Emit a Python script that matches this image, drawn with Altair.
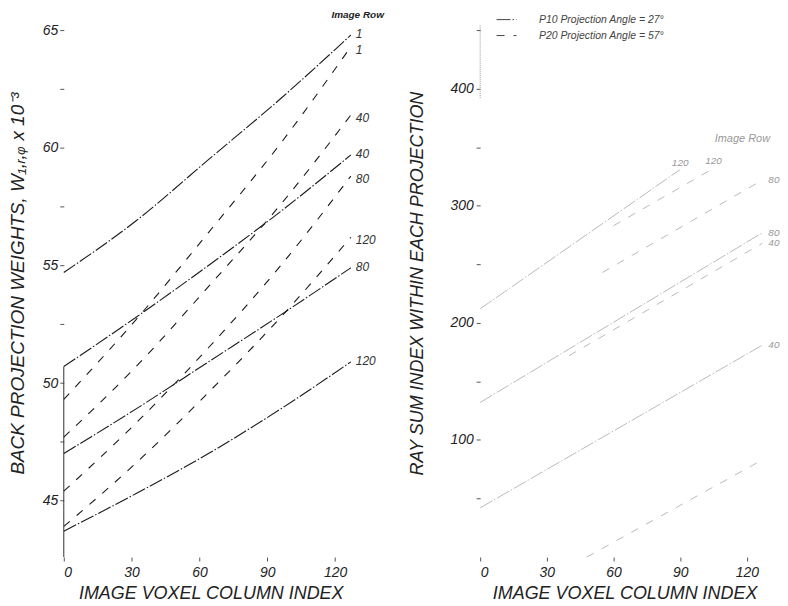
import altair as alt
import pandas as pd

FONT = "Liberation Sans"

# ---------------- left panel: back projection weights (x 10^-3) ----------------
cols = [0, 32, 64, 96, 127]
p10_row1 = [54.7, 56.9, 59.5, 62.1, 64.8]
p10_row40 = [50.7, 52.8, 55.0, 57.3, 59.7]
p10_row80 = [47.0, 48.9, 50.9, 52.9, 54.9]
p10_row120 = [43.7, 45.3, 47.0, 48.9, 50.9]
p20_row1 = [49.3, 52.7, 56.4, 60.2, 64.3]
p20_row40 = [47.7, 50.7, 54.1, 57.6, 61.4]
p20_row80 = [45.4, 48.3, 51.5, 55.0, 58.8]
p20_row120 = [43.9, 46.6, 49.6, 52.8, 56.2]
rows = ["1", "40", "80", "120"]

# ---------------- right panel: ray sum index (straight lines) ----------------
ray_p10_row40_cols = [0, 127]
ray_p10_row40 = [42, 181]
ray_p10_row80_cols = [0, 127]
ray_p10_row80 = [132, 277]
ray_p10_row120_cols = [0, 90]
ray_p10_row120 = [212, 331]
ray_p20_row1_cols = [48, 127]
ray_p20_row1 = [0, 83]
ray_p20_row40_cols = [40, 127]
ray_p20_row40 = [172, 268]
ray_p20_row80_cols = [55, 127]
ray_p20_row80 = [243, 322]
ray_p20_row120_cols = [60, 105]
ray_p20_row120 = [283, 332]

# axis helpers
left_x_ticks = [0, 15, 30, 45, 60, 75, 90, 105, 120]
left_y_ticks = [45, 47.5, 50, 52.5, 55, 57.5, 60, 62.5, 65]
right_y_ticks = [50, 100, 150, 200, 250, 300, 350, 400, 450]
left_axis_seg = [42.6, 50.7]
right_axis_seg = [392, 455]

P10 = "P10 Projection Angle = 27°"
P20 = "P20 Projection Angle = 57°"
dash_scale = alt.Scale(domain=[P10, P20], range=[[14, 2, 1.5, 2], [8, 9]])

# ---------------- build tables ----------------
recs = []
for proj, series in ((P10, [p10_row1, p10_row40, p10_row80, p10_row120]),
                     (P20, [p20_row1, p20_row40, p20_row80, p20_row120])):
    for row, vals in zip(rows, series):
        for c, v in zip(cols, vals):
            recs.append({"proj": proj, "row": row, "col": c, "w": v, "series": proj + row})
left_df = pd.DataFrame(recs)
left_end = left_df[left_df["col"] == cols[-1]]

rrecs = []
for proj, row, cc, vv in [
    (P10, "40", ray_p10_row40_cols, ray_p10_row40),
    (P10, "80", ray_p10_row80_cols, ray_p10_row80),
    (P10, "120", ray_p10_row120_cols, ray_p10_row120),
    (P20, "1", ray_p20_row1_cols, ray_p20_row1),
    (P20, "40", ray_p20_row40_cols, ray_p20_row40),
    (P20, "80", ray_p20_row80_cols, ray_p20_row80),
    (P20, "120", ray_p20_row120_cols, ray_p20_row120),
]:
    for c, v in zip(cc, vv):
        rrecs.append({"proj": proj, "row": row, "col": c, "r": v, "series": proj + row})
right_df = pd.DataFrame(rrecs)
ends = right_df.groupby("series").tail(1)
right_end_side = ends[(ends["col"] == 127) & (ends["row"] != "1")]
right_end_top = ends[ends["col"] < 127]

common_axis = dict(domain=False, grid=False, tickSize=4, tickColor="#555",
                   labelFont=FONT, labelFontStyle="italic", labelFontSize=14,
                   labelColor="#222", titleFont=FONT, titleFontStyle="italic",
                   titleFontWeight="normal", titleColor="#222")

xs_left = alt.X("col:Q", scale=alt.Scale(domain=[0, 130], nice=False, zero=False),
                axis=alt.Axis(values=left_x_ticks, labelPadding=5, titlePadding=5, titleFontSize=18,
                              labelExpr="datum.value % 30 == 0 ? datum.label : ''",
                              title="IMAGE VOXEL COLUMN INDEX", **common_axis))
ys_left = alt.Y("w:Q", scale=alt.Scale(domain=[42.6, 65.9], nice=False, zero=False),
                axis=alt.Axis(values=left_y_ticks, labelPadding=2, titlePadding=15, titleFontSize=19,
                              labelExpr="datum.value % 5 == 0 ? datum.label : ''",
                              title="BACK PROJECTION WEIGHTS, W₁,ᵣ,ᵩ x 10⁻³", **common_axis))

left_lines = alt.Chart(left_df).mark_line(strokeWidth=1.1, color="#1a1a1a", interpolate="monotone").encode(
    x=xs_left, y=ys_left,
    strokeDash=alt.StrokeDash("proj:N", scale=dash_scale, legend=None),
    detail="series:N")
left_rule = alt.Chart(pd.DataFrame({"col": [0], "w": [left_axis_seg[0]], "w2": [left_axis_seg[1]]})).mark_rule(
    color="#333", strokeWidth=1).encode(x="col:Q", y="w:Q", y2="w2:Q")
label_style = dict(align="left", baseline="middle", dx=5, font=FONT, fontStyle="italic",
                   fontSize=12, color="#333")
left_labels_p10 = alt.Chart(left_end).transform_filter(alt.datum.proj == P10).mark_text(
    dy=-1, **label_style).encode(x="col:Q", y="w:Q", text="row:N")
left_labels_p20 = alt.Chart(left_end).transform_filter(alt.datum.proj == P20).mark_text(
    dy=3, **label_style).encode(x="col:Q", y="w:Q", text="row:N")
left_head = alt.Chart(pd.DataFrame({"col": [130], "w": [65.65], "t": ["Image Row"]})).mark_text(
    align="center", baseline="middle", font=FONT, fontStyle="italic", fontWeight="bold",
    fontSize=10, color="#222").encode(x="col:Q", y="w:Q", text="t:N")

left = alt.layer(left_rule, left_lines, left_labels_p10, left_labels_p20, left_head).properties(
    width=295, height=550)

xs_right = alt.X("col:Q", scale=alt.Scale(domain=[0, 130], nice=False, zero=False),
                 axis=alt.Axis(values=left_x_ticks, labelPadding=5, titlePadding=5, titleFontSize=18,
                               labelExpr="datum.value % 30 == 0 ? datum.label : ''",
                               title="IMAGE VOXEL COLUMN INDEX", **common_axis))
ys_right = alt.Y("r:Q", scale=alt.Scale(domain=[0, 468], nice=False, zero=False),
                 axis=alt.Axis(values=right_y_ticks, labelPadding=3, titlePadding=24, titleFontSize=18,
                               labelExpr="datum.value % 100 == 0 ? datum.label : ''",
                               title="RAY SUM INDEX WITHIN EACH PROJECTION", **common_axis))

right_lines = alt.Chart(right_df).mark_line(strokeWidth=0.8, color="#a8a8a8").encode(
    x=xs_right, y=ys_right,
    strokeDash=alt.StrokeDash("proj:N", scale=dash_scale, legend=alt.Legend(
        orient="none", legendX=16, legendY=0, title=None, symbolType="stroke",
        symbolSize=400, symbolStrokeWidth=1, symbolStrokeColor="#444",
        labelFont=FONT, labelFontStyle="italic", labelFontSize=10.5, labelColor="#444",
        rowPadding=-4, labelOffset=22)),
    detail="series:N")
right_rule = alt.Chart(pd.DataFrame({"col": [0], "r": [right_axis_seg[0]], "r2": [right_axis_seg[1]]})).mark_rule(
    color="#999", strokeWidth=1, strokeDash=[1, 1]).encode(x="col:Q", y="r:Q", y2="r2:Q")
right_side = alt.Chart(right_end_side).mark_text(align="left", baseline="middle", dx=6, font=FONT,
                                                 fontStyle="italic", fontSize=10, color="#999").encode(
    x="col:Q", y="r:Q", text="row:N")
right_top = alt.Chart(right_end_top).mark_text(align="center", baseline="bottom", dy=-2, font=FONT,
                                               fontStyle="italic", fontSize=10, color="#999").encode(
    x="col:Q", y="r:Q", text="row:N")
right_head = alt.Chart(pd.DataFrame({"col": [118], "r": [357], "t": ["Image Row"]})).mark_text(
    align="center", baseline="middle", font=FONT, fontStyle="italic",
    fontSize=11, color="#999").encode(x="col:Q", y="r:Q", text="t:N")

right = alt.layer(right_rule, right_lines, right_side, right_top, right_head).properties(
    width=290, height=550)

chart = alt.hconcat(left, right, spacing=123, bounds="flush").resolve_scale(
    strokeDash="independent").resolve_legend(strokeDash="independent").properties(
    padding={"left": 0, "top": 0, "right": 0, "bottom": 0}).configure_view(stroke=None)

chart.save("out.html", embed_options={"renderer": "svg", "actions": False})
